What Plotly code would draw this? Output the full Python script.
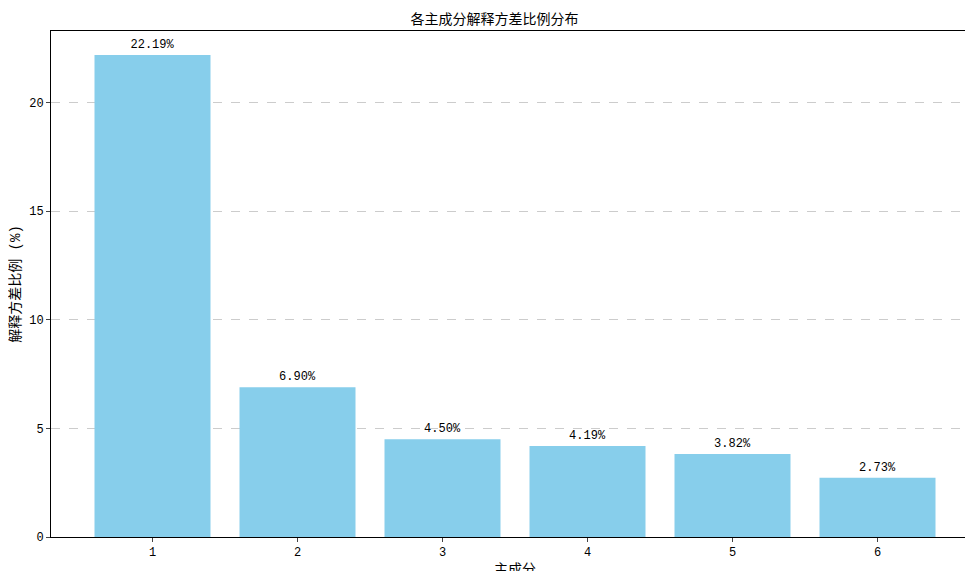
import plotly.graph_objects as go

components = [1, 2, 3, 4, 5, 6]
ratios = [22.19, 6.90, 4.50, 4.19, 3.82, 2.73]
labels = [f"{v:.2f}%" for v in ratios]

font = "Liberation Mono, Noto Sans CJK SC"
fig = go.Figure(go.Bar(
    x=components, y=ratios, width=0.8, marker_color="#87CEEB", marker_line_width=0,
    text=labels, textposition="outside", cliponaxis=False,
    textfont=dict(size=12, color="black", family=font),
))
fig.update_layout(
    width=973, height=571, margin=dict(l=43, r=2, t=23, b=42, autoexpand=False),
    plot_bgcolor="white", paper_bgcolor="white",
    font=dict(family=font, size=12, color="black"),
    title=dict(text="各主成分解释方差比例分布", x=0.5, xanchor="center", y=0.99, yanchor="top",
               font=dict(size=14)),
    showlegend=False,
)
fig.update_xaxes(range=[0.3, 6.7], tickvals=components, showline=True, linecolor="black",
                 mirror=True, ticks="outside", ticklen=4, showgrid=False, automargin=False,
                 title=dict(text="主成分", standoff=4))
fig.update_yaxes(range=[0, 23.3], tickvals=[0, 5, 10, 15, 20], showline=True, linecolor="black",
                 mirror=True, ticks="outside", ticklen=4, showgrid=True, gridcolor="#cccccc",
                 griddash="dash", zeroline=False, automargin=False,
                 title=dict(text="解释方差比例 (%)", standoff=6))
fig.write_html("out.html")
